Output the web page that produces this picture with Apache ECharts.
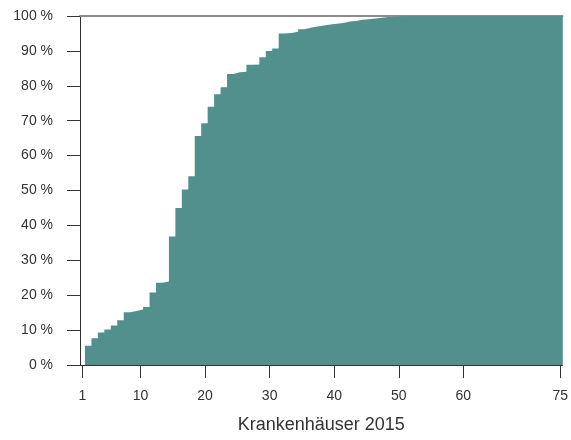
<!DOCTYPE html>
<html>
<head>
<meta charset="utf-8">
<script src="https://cdn.jsdelivr.net/npm/echarts@6/dist/echarts.min.js"></script>
<style>
  html, body { margin: 0; padding: 0; background: #fff; }
  #chart { width: 571px; height: 440px; }
</style>
</head>
<body>
<div id="chart"></div>
<script>
// Rang der Krankenhäuser (1..75) und kumulierter Anteil in %
const ranks = Array.from({ length: 75 }, (_, i) => i + 1);
const cumShare = [
  5.5, 7.7, 9.3, 10.2, 11.3, 12.8, 15.1, 15.5, 15.9, 16.6,
  20.8, 23.6, 23.9, 36.8, 45.0, 50.3, 54.1, 65.6, 69.3, 74.0,
  77.6, 79.6, 83.4, 83.9, 84.0, 86.0, 86.1, 88.2, 90.0, 90.7,
  95.0, 95.1, 95.5, 96.2, 96.6, 97.0, 97.3, 97.6, 97.8, 98.0,
  98.4, 98.6, 98.9, 99.1, 99.3, 99.5, 99.7, 99.8, 99.9, 100,
  100, 100, 100, 100, 100, 100, 100, 100, 100, 100,
  100, 100, 100, 100, 100, 100, 100, 100, 100, 100,
  100, 100, 100, 100, 100,
];
const xTicks = [1, 10, 20, 30, 40, 50, 60, 75];
const axisTitle = 'Krankenhäuser 2015';

const chart = echarts.init(document.getElementById('chart'));
const font = 'Liberation Sans';
const stepShift = 0.4; // Stufe beginnt leicht rechts vom Rangwert

const option = {
  animation: false,
  grid: { left: 80, right: 6, top: 16, bottom: 75 },
  xAxis: [
    {
      type: 'value',
      min: 0.63,
      max: 75.35,
      name: axisTitle,
      nameLocation: 'middle',
      nameGap: 51,
      nameTextStyle: { fontFamily: font, fontSize: 18, color: '#333' },
      axisLine: { lineStyle: { color: '#333', width: 1 } },
      axisTick: { length: 13, customValues: xTicks, lineStyle: { color: '#333' } },
      axisLabel: {
        customValues: xTicks,
        margin: 24,
        fontFamily: font,
        fontSize: 14,
        color: '#333',
      },
      splitLine: { show: false },
    },
    {
      type: 'value',
      position: 'top',
      min: 0.63,
      max: 75.35,
      axisLine: { show: true, lineStyle: { color: '#8c8c8c', width: 2 } },
      axisTick: { show: false },
      axisLabel: { show: false },
      splitLine: { show: false },
    },
  ],
  yAxis: {
    type: 'value',
    min: 0,
    max: 100,
    interval: 10,
    axisLine: { show: true, lineStyle: { color: '#333', width: 1 } },
    axisTick: { length: 13, lineStyle: { color: '#333' } },
    axisLabel: {
      formatter: '{value} %',
      margin: 27,
      fontFamily: font,
      fontSize: 14,
      color: '#333',
    },
    splitLine: { show: false },
  },
  series: [
    {
      type: 'line',
      step: 'end',
      symbol: 'none',
      lineStyle: { width: 0 },
      areaStyle: { color: '#52908d', opacity: 1 },
      data: ranks.map((r, i) => [r + stepShift, cumShare[i]]),
    },
  ],
};

chart.setOption(option);
</script>
</body>
</html>
